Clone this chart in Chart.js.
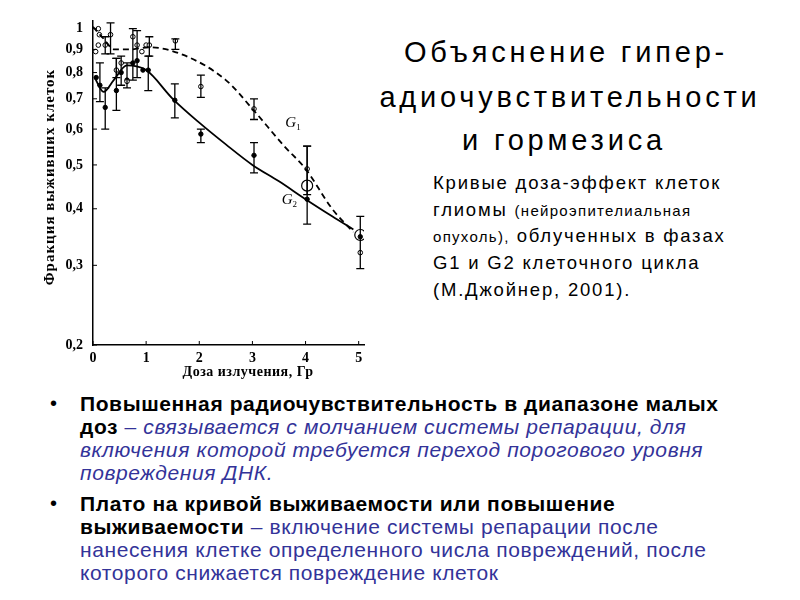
<!DOCTYPE html>
<html>
<head>
<meta charset="utf-8">
<script src="https://cdn.jsdelivr.net/npm/chart.js@4.4.0/dist/chart.umd.min.js"></script>
<style>
  html, body { margin: 0; padding: 0; background: #fff; }
  body { width: 800px; height: 600px; position: relative; overflow: hidden; font-family: "Liberation Sans", Arial, sans-serif; }
  .ln { position: absolute; white-space: nowrap; line-height: 1; }
  .title { font-size: 29px; letter-spacing: 3.8px; color: #000; width: 800px; text-align: center; transform: translateX(-400px); }
  .sub { font-size: 18.5px; letter-spacing: 1.8px; left: 433px; color: #000; }
  .sub small { font-size: 15px; letter-spacing: 1.3px; }
  .bl { font-size: 21px; left: 80px; letter-spacing: 0.6px; color: #333399; }
  .bl b { color: #000; }
  .dot { position: absolute; left: 50px; font-size: 20px; line-height: 1; }
  #chartWrap { position: absolute; left: 40px; top: 10px; width: 336px; height: 380px; z-index: 2; background: #fff; }
</style>
</head>
<body>

<div class="ln title" style="left:566px; top:38px;">Объяснение гипер-</div>
<div class="ln title" style="left:560px; top:83px;">радиочувствительности</div>
<div class="ln title" style="left:564px; top:126px;">и гормезиса</div>

<div class="ln sub" style="top:174px;">Кривые доза-эффект клеток</div>
<div class="ln sub" style="top:201px;">глиомы <small>(нейроэпителиальная</small></div>
<div class="ln sub" style="top:227px;"><small>опухоль),</small> облученных в фазах</div>
<div class="ln sub" style="top:254px;">G1 и G2 клеточного цикла</div>
<div class="ln sub" style="top:281px;">(М.Джойнер, 2001).</div>

<div class="dot" style="top:393px;">•</div>
<div class="ln bl" style="top:393px;"><b>Повышенная радиочувствительность в диапазоне малых</b></div>
<div class="ln bl" style="top:416px;"><b>доз</b> – <i>связывается с молчанием системы репарации, для</i></div>
<div class="ln bl" style="top:439px;"><i>включения которой требуется переход порогового уровня</i></div>
<div class="ln bl" style="top:462px;"><i>повреждения ДНК.</i></div>
<div class="dot" style="top:493px;">•</div>
<div class="ln bl" style="top:493px;"><b>Плато на кривой выживаемости или повышение</b></div>
<div class="ln bl" style="top:516px;"><b>выживаемости</b> – включение системы репарации после</div>
<div class="ln bl" style="top:539px;">нанесения клетке определенного числа повреждений, после</div>
<div class="ln bl" style="top:562px;">которого снижается повреждение клеток</div>

<div id="chartWrap"><canvas id="survivalChart" width="336" height="380"></canvas></div>

<script>
// Measured points, G2 phase (filled circles)
const doseG2 = [0.06, 0.13, 0.23, 0.44, 0.53, 0.64, 0.75, 0.83, 0.94, 1.04, 1.54, 2.03, 3.03, 4.03, 5.03];
const survG2 = [0.78, 0.75, 0.67, 0.73, 0.80, 0.77, 0.84, 0.85, 0.81, 0.81, 0.695, 0.585, 0.525, 0.42, 0.347];
const lowG2  = [null, 0.69, 0.60, 0.66, 0.75, 0.74, null, null, null, 0.73, 0.635, 0.56, 0.48, 0.37, null];
const highG2 = [null, 0.84, 0.74, 0.86, 0.87, 0.84, null, null, null, 0.87, 0.755, 0.60, 0.56, 0.55, null];

// Measured points, G1 phase (open circles)
const doseG1 = [0.05, 0.10, 0.12, 0.10, 0.23, 0.33, 0.44, 0.53, 0.64, 0.75, 0.83, 0.92, 1.00, 1.06, 1.55, 2.03, 3.03, 4.03, 5.03];
const survG1 = [0.89, 1.00, 0.97, 0.92, 0.92, 0.97, 0.81, 0.84, 0.765, 0.96, 0.92, 0.89, 0.92, 0.92, 0.94, 0.745, 0.665, 0.49, 0.32];
const lowG1  = [null, null, null, null, 0.88, 0.88, 0.78, null, null, 0.77, 0.78, null, null, 0.87, 0.90, 0.705, 0.63, 0.43, 0.295];
const highG1 = [null, null, null, null, 0.96, 1.03, 0.86, null, null, 1.00, 0.99, null, null, 0.96, 0.95, 0.79, 0.70, 0.55, 0.385];

// Bracket-like markers at high doses
const doseBr = [4.03, 5.03];
const survBr = [0.45, 0.35];

// Fitted curves
const fitDoseG2 = [0.03, 0.20, 0.39, 0.64, 1.00, 1.50, 2.00, 2.50, 3.00, 3.50, 4.00, 4.50, 4.90];
const fitSurvG2 = [0.78, 0.725, 0.77, 0.83, 0.81, 0.70, 0.62, 0.555, 0.50, 0.46, 0.42, 0.385, 0.36];
const fitDoseG1 = [0.00, 0.20, 0.40, 0.70, 1.05, 1.70, 2.50, 3.00, 3.60, 4.00, 4.50, 4.90];
const fitSurvG1 = [1.01, 0.95, 0.90, 0.90, 0.91, 0.875, 0.77, 0.665, 0.55, 0.49, 0.40, 0.355];

// Axes
const xTicks = [0, 1, 2, 3, 4, 5];
const yTicks = [0.2, 0.3, 0.4, 0.5, 0.6, 0.7, 0.8, 0.9, 1];
const yTickLabels = ['0,2', '0,3', '0,4', '0,5', '0,6', '0,7', '0,8', '0,9', '1'];
const xTitle = 'Доза излучения, Гр';
const yTitle = 'Фракция выживших клеток';

// Curve labels
const curveLabels = ['1', '2'];
const curveLabelX = [3.62, 3.55];
const curveLabelY = [0.605, 0.41];

const toPoints = (xs, ys) => xs.map((x, i) => ({ x: x, y: ys[i] }));
const serif = '"Liberation Serif", "DejaVu Serif", serif';

const errorBars = {
    id: 'errorBars',
    beforeDraw(chart) {
        const c = chart.ctx;
        c.save();
        c.fillStyle = '#fff';
        c.fillRect(0, 0, chart.width, chart.height);
        c.restore();
    },
    afterDatasetsDraw(chart) {
        const c = chart.ctx;
        const xs = chart.scales.x, ys = chart.scales.y;
        const a = chart.chartArea;
        const sets = [[doseG2, lowG2, highG2], [doseG1, lowG1, highG1]];
        c.save();
        c.strokeStyle = '#000';
        c.lineWidth = 1.3;
        sets.forEach(([d, lo, hi]) => {
            d.forEach((x, i) => {
                if (lo[i] == null) return;
                const px = xs.getPixelForValue(x);
                const y1 = ys.getPixelForValue(lo[i]);
                const y2 = ys.getPixelForValue(hi[i]);
                c.beginPath();
                c.moveTo(px, y1); c.lineTo(px, y2);
                c.moveTo(px - 4, y1); c.lineTo(px + 4, y1);
                c.moveTo(px - 4, y2); c.lineTo(px + 4, y2);
                c.stroke();
            });
        });
        // small inner tick marks
        c.lineWidth = 1;
        yTicks.forEach(v => {
            const py = ys.getPixelForValue(v);
            c.beginPath(); c.moveTo(a.left, py); c.lineTo(a.left + 4, py); c.stroke();
        });
        xTicks.forEach(v => {
            const px = xs.getPixelForValue(v);
            c.beginPath(); c.moveTo(px, a.bottom); c.lineTo(px, a.bottom - 4); c.stroke();
        });
        // G1 / G2 labels
        c.fillStyle = '#000';
        c.textBaseline = 'alphabetic';
        c.textAlign = 'left';
        curveLabels.forEach((t, i) => {
            const px = xs.getPixelForValue(curveLabelX[i]);
            const py = ys.getPixelForValue(curveLabelY[i]);
            c.font = 'italic 15px ' + serif;
            c.fillText('G', px, py);
            const w = c.measureText('G').width;
            c.font = '9px ' + serif;
            c.fillText(t, px + w, py + 3);
        });
        // axis titles
        c.textAlign = 'center';
        c.textBaseline = 'middle';
        c.font = 'bold 14px ' + serif;
        c.letterSpacing = '0.5px';
        c.fillText(xTitle, 208, 362);
        c.translate(10, 167);
        c.rotate(-Math.PI / 2);
        c.font = 'bold 15px ' + serif;
        c.letterSpacing = '1px';
        c.fillText(yTitle, 0, 0);
        c.restore();
    }
};

new Chart(document.getElementById('survivalChart'), {
    type: 'scatter',
    data: {
        datasets: [
            {
                label: 'G1 fit',
                data: toPoints(fitDoseG1, fitSurvG1),
                showLine: true,
                borderColor: '#000',
                borderWidth: 1.8,
                borderDash: [6, 4],
                cubicInterpolationMode: 'monotone',
                pointRadius: 0
            },
            {
                label: 'G2 fit',
                data: toPoints(fitDoseG2, fitSurvG2),
                showLine: true,
                borderColor: '#000',
                borderWidth: 1.8,
                cubicInterpolationMode: 'monotone',
                pointRadius: 0
            },
            {
                label: 'G1',
                data: toPoints(doseG1, survG1),
                pointRadius: 2.3,
                pointBackgroundColor: '#fff',
                pointBorderColor: '#000',
                pointBorderWidth: 1
            },
            {
                label: 'G2',
                data: toPoints(doseG2, survG2),
                pointRadius: 2.2,
                pointBackgroundColor: '#000',
                pointBorderColor: '#000',
                pointBorderWidth: 1
            },
            {
                label: 'brackets',
                data: toPoints(doseBr, survBr),
                pointRadius: 5.5,
                pointBackgroundColor: 'rgba(0,0,0,0)',
                pointBorderColor: '#000',
                pointBorderWidth: 1.2
            }
        ]
    },
    options: {
        responsive: false,
        animation: false,
        devicePixelRatio: 1,
        layout: { padding: { top: 11, right: 12, left: 0, bottom: 0 } },
        plugins: {
            legend: { display: false },
            tooltip: { enabled: false }
        },
        scales: {
            x: {
                type: 'linear',
                min: 0,
                max: 5.1,
                afterBuildTicks: s => { s.ticks = xTicks.map(v => ({ value: v })); },
                afterFit: s => { s.height = 45; s.paddingLeft = 0; s.paddingRight = 0; },
                grid: { display: false, drawTicks: false },
                border: { display: true, color: '#000', width: 1.5 },
                ticks: {
                    color: '#000',
                    padding: 5,
                    maxRotation: 0,
                    font: { family: serif, size: 14, weight: 'bold' }
                }
            },
            y: {
                type: 'logarithmic',
                min: 0.2,
                max: 1.04,
                afterBuildTicks: s => { s.ticks = yTicks.map(v => ({ value: v })); },
                afterFit: s => { s.width = 53; s.paddingTop = 0; s.paddingBottom = 0; },
                grid: { display: false, drawTicks: false },
                border: { display: true, color: '#000', width: 1.5 },
                ticks: {
                    color: '#000',
                    padding: 10,
                    autoSkip: false,
                    callback: (v, i) => yTickLabels[i],
                    font: { family: serif, size: 14, weight: 'bold' }
                }
            }
        }
    },
    plugins: [errorBars]
});
</script>
</body>
</html>
